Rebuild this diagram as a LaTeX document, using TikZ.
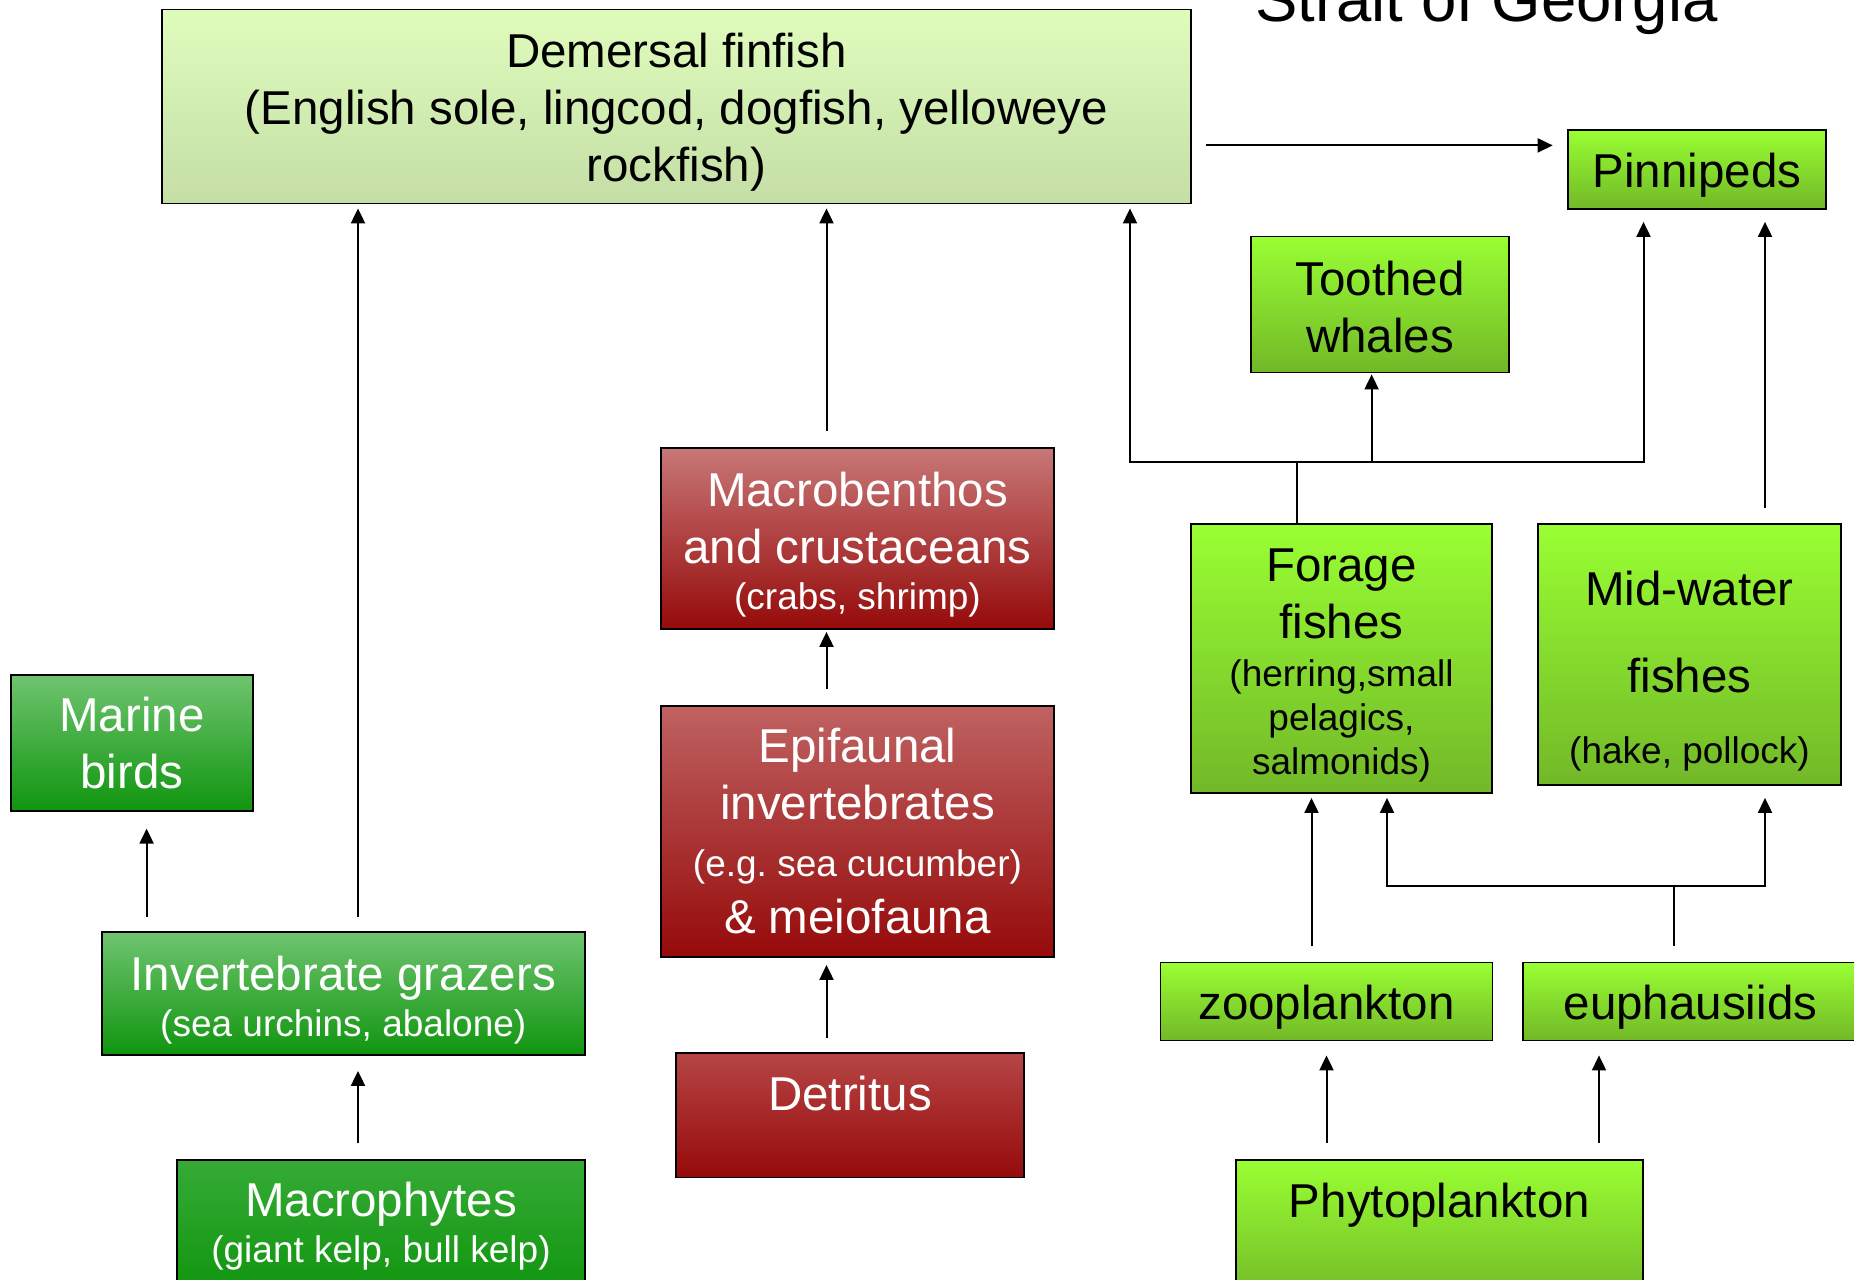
\documentclass[tikz,border=0pt]{standalone}
\usepackage{fontspec}
\setmainfont{Liberation Sans}
\usetikzlibrary{arrows.meta, positioning}
\newcommand{\grande}{\fontsize{47.5bp}{57bp}\selectfont}
\newcommand{\chica}{\fontsize{37bp}{44bp}\selectfont}
\newcommand{\alto}[1]{\rule{0pt}{#1bp}}
\definecolor{limaA}{HTML}{99FF33}
\definecolor{limaB}{HTML}{72B828}
\definecolor{claroA}{HTML}{E0FCBC}
\definecolor{claroB}{HTML}{C4DEA6}
\definecolor{verdeA}{HTML}{6FC46F}
\definecolor{verdeB}{HTML}{10950F}
\definecolor{verdeM}{HTML}{36AB36}
\definecolor{rojoM}{HTML}{C87777}
\definecolor{rojoE}{HTML}{C06262}
\definecolor{rojoD}{HTML}{B64545}
\definecolor{rojoB}{HTML}{960A0A}
\tikzset{
    caja/.style={draw=black, line width=1.8bp, inner sep=0pt, align=center, font=\grande},
    lima/.style={caja, top color=limaA, bottom color=limaB},
    claro/.style={caja, top color=claroA, bottom color=claroB},
    verde/.style={caja, top color=verdeA, bottom color=verdeB, text=white},
    rojo/.style={caja, top color=#1, bottom color=rojoB, text=white},
    flecha/.style={line width=2bp, -{Triangle[length=15bp, width=14bp]}},
    linea/.style={line width=2bp},
}

\begin{document}
\frenchspacing
\begin{tikzpicture}[x=1bp, y=-1bp]
\useasboundingbox (0,0) rectangle (1854,1279);
% titulo
\node[anchor=base west, inner sep=0pt, font=\fontsize{63.5bp}{70bp}\selectfont] (titulo) at (1255,21) {Strait of Georgia};
% arriba
\node[claro, minimum width=1029bp, minimum height=194bp] (demersal) at (676.5,106.5) {\alto{46.7}Demersal finfish\\(English sole, lingcod, dogfish, yelloweye\\rockfish)};
\node[lima, minimum width=258bp, minimum height=79bp] (pinnipedos) at (1697,169.5) {\alto{46.7}Pinnipeds};
\node[lima, minimum width=258bp, minimum height=136bp] (ballenas) at (1380,304.5) {\alto{38.7}Toothed\\whales};
% bentos
\node[rojo=rojoM, minimum width=393bp, minimum height=181bp] (macrob) at (857.5,538.5) {\alto{46.7}Macrobenthos\\and crustaceans\\[-10.5bp]{\chica (crabs, shrimp)}};
\node[rojo=rojoE, minimum width=393bp, minimum height=251bp] (epifauna) at (857.5,831.5) {Epifaunal\\invertebrates\\{\chica (e.g.\ sea cucumber)}\\\& meiofauna};
\node[rojo=rojoD, minimum width=348bp, text height=58bp, text depth=66.5bp, anchor=north] (detrito) at (850,1052) {Detritus};
% peces
\node[lima, minimum width=301bp, minimum height=269bp] (forraje) at (1341.5,658.5) {\alto{46.7}Forage\\fishes\\[-9bp]{\chica (herring,small}\\[-13bp]{\chica pelagics,}\\[-13bp]{\chica salmonids)}};
\node[lima, minimum width=303bp, minimum height=261bp] (media) at (1689.5,654.5) {\alto{66.7}Mid-water\\[30bp]fishes\\[14bp]{\chica (hake, pollock)}};
% plancton
\node[lima, minimum width=332bp, minimum height=78bp] (zoo) at (1326.5,1001.5) {\alto{46.7}zooplankton};
\node[lima, minimum width=335bp, minimum height=78bp] (eufausidos) at (1690.5,1001.5) {\alto{46.7}euphausiids};
\node[lima, minimum width=407bp, text height=58bp, text depth=85bp, anchor=north] (fito) at (1439.5,1159) {Phytoplankton};
% costa
\node[verde, minimum width=242bp, minimum height=136bp] (aves) at (132,743) {Marine\\birds};
\node[verde, minimum width=483bp, minimum height=123bp] (ramoneadores) at (343.3,993.5) {\alto{46.7}Invertebrate grazers\\[-11bp]{\chica (sea urchins, abalone)}};
\node[verde, top color=verdeM, minimum width=408bp, minimum height=132bp, anchor=north] (macrofitas) at (381,1159) {Macrophytes\\[-11bp]{\chica (giant kelp, bull kelp)}};

% flechas
\draw[flecha, shorten <=16bp, shorten >=15bp] (macrofitas.north -| 358,0) -- (ramoneadores.south -| 358,0);
\draw[flecha, shorten <=14.5bp, shorten >=16.7bp] (ramoneadores.north -| 146.6,0) -- (aves.south -| 146.6,0);
\draw[flecha, shorten <=14.5bp, shorten >=4bp] (ramoneadores.north -| 358,0) -- (demersal.south -| 358,0);
\draw[flecha, shorten <=14bp, shorten >=7bp] (detrito.north -| 826.5,0) -- (epifauna.south -| 826.5,0);
\draw[flecha, shorten <=16bp, shorten >=2bp] (epifauna.north -| 826.5,0) -- (macrob.south -| 826.5,0);
\draw[flecha, shorten <=16.4bp, shorten >=4bp] (macrob.north -| 826.5,0) -- (demersal.south -| 826.5,0);
\draw[flecha, shorten <=14bp, shorten >=14.4bp] (demersal.east |- 0,145.4) -- (pinnipedos.west |- 0,145.4);
% forraje hacia arriba
\coordinate (nudo) at (1297,462);
\draw[linea] (forraje.north -| nudo) -- (nudo);
\draw[flecha, shorten >=4bp] (nudo) -| (demersal.south -| 1130,0);
\draw[flecha, shorten >=1bp] (nudo) -| (ballenas.south -| 1371.6,0);
\draw[flecha, shorten >=12bp] (nudo) -| (pinnipedos.south -| 1643.5,0);
\draw[flecha, shorten <=15.5bp, shorten >=12bp] (media.north -| 1765,0) -- (pinnipedos.south -| 1765,0);
% plancton hacia arriba
\draw[flecha, shorten <=15.5bp, shorten >=4bp] (zoo.north -| 1311.5,0) -- (forraje.south -| 1311.5,0);
\coordinate (nudo2) at (1674,885.6);
\draw[linea, shorten <=15.5bp] (eufausidos.north -| nudo2) -- (nudo2);
\draw[flecha, shorten >=4bp] (nudo2) -| (forraje.south -| 1387,0);
\draw[flecha, shorten >=12bp] (nudo2) -| (media.south -| 1765,0);
\draw[flecha, shorten <=16bp, shorten >=14bp] (fito.north -| 1326.5,0) -- (zoo.south -| 1326.5,0);
\draw[flecha, shorten <=16bp, shorten >=14bp] (fito.north -| 1599,0) -- (eufausidos.south -| 1599,0);
\end{tikzpicture}
\end{document}
